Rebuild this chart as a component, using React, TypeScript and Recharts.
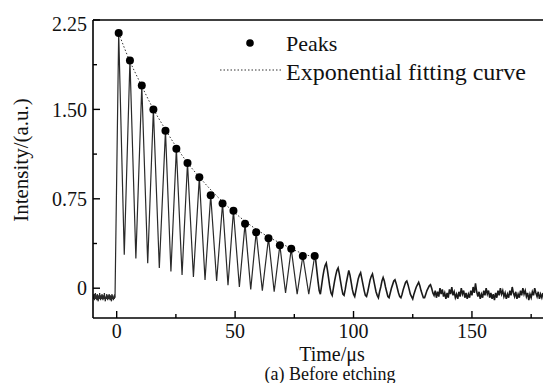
import React from 'react';
import { ComposedChart, Line, Scatter, XAxis, YAxis, ReferenceLine } from 'recharts';

// ---- data ----
// baseline before the trigger (µs grid start / step and intensity values)
const preStart = -10;
const preStep = 0.2;
const preValues = [
  -0.06, -0.09, -0.05, -0.10, -0.07, -0.04, -0.09, -0.06, -0.10, -0.05,
  -0.08, -0.11, -0.06, -0.09, -0.04, -0.08, -0.10, -0.06, -0.09, -0.05,
  -0.07, -0.10, -0.06, -0.09, -0.04, -0.08, -0.11, -0.07, -0.09, -0.05,
  -0.08, -0.10, -0.06, -0.09, -0.05, -0.07, -0.10, -0.06, -0.08, -0.11,
  -0.05, -0.09, -0.06, -0.10, -0.07, -0.09, -0.05, -0.08,
];
const riseStart = { t: -0.7, v: -0.07 };

// detected peaks (µs, a.u.)
const peakTimes = [0.85, 5.6, 10.6, 15.5, 20.6, 25.2, 29.9, 34.9, 39.7, 44.7, 49.3, 54.2, 58.9, 64.1, 68.9, 73.7, 78.6, 83.6];
const peakValues = [2.14, 1.91, 1.70, 1.50, 1.32, 1.17, 1.05, 0.93, 0.78, 0.71, 0.65, 0.54, 0.47, 0.42, 0.36, 0.33, 0.27, 0.27];

// troughs between the peaks
const troughTimes = [3.2, 8.1, 13.1, 18.0, 22.9, 27.6, 32.4, 37.3, 42.2, 47.0, 51.8, 56.6, 61.5, 66.5, 71.3, 76.2, 81.1];
const troughValues = [0.28, 0.25, 0.21, 0.17, 0.14, 0.11, 0.095, 0.07, 0.06, 0.025, 0.01, -0.01, -0.02, -0.03, -0.04, -0.05, -0.05];

// decaying, noisy tail after the last marked peak
const tailStart = 84;
const tailStep = 0.5;
const tailValues = [
  0.24, 0.15, 0.06, -0.02, -0.05, 0.02, 0.09, 0.15, 0.19, 0.21,
  0.15, 0.08, 0.01, -0.04, -0.06, 0.00, 0.06, 0.11, 0.15, 0.17,
  0.12, 0.06, 0.00, -0.05, -0.06, -0.01, 0.05, 0.10, 0.15, 0.11,
  0.05, -0.01, -0.05, -0.07, -0.02, 0.03, 0.08, 0.11, 0.13, 0.08,
  0.03, -0.02, -0.06, -0.07, -0.03, 0.02, 0.07, 0.10, 0.12, 0.07,
  0.02, -0.03, -0.06, -0.08, -0.03, 0.01, 0.06, 0.09, 0.06, 0.01,
  -0.03, -0.07, -0.08, -0.04, 0.00, 0.03, 0.06, 0.07, 0.04, 0.00,
  -0.04, -0.07, -0.08, -0.05, -0.01, 0.02, 0.05, 0.06, 0.03, -0.01,
  -0.05, -0.07, -0.09, -0.05, -0.02, 0.01, 0.03, 0.05, 0.02, -0.02,
  -0.05, -0.08, -0.08, -0.05, -0.02, 0.00, 0.02, 0.03, 0.00, -0.04,
  -0.06, -0.02, -0.08, -0.03, -0.07, 0.00, -0.05, -0.01, -0.07, -0.04,
  -0.09, -0.04, -0.08, -0.01, -0.05, 0.01, -0.06, -0.03, -0.08, -0.05,
  -0.09, -0.03, -0.07, 0.00, -0.05, -0.02, -0.08, -0.04, -0.09, -0.05,
  -0.08, -0.02, -0.06, 0.01, -0.04, 0.04, -0.03, -0.07, -0.03, -0.09,
  -0.05, -0.08, -0.02, -0.06, 0.00, -0.05, -0.02, -0.08, -0.04, -0.09,
  -0.05, -0.10, -0.04, -0.08, -0.02, -0.06, 0.00, -0.05, -0.02, -0.07,
  -0.04, -0.09, -0.05, -0.08, -0.02, -0.06, 0.01, -0.04, -0.07, -0.03,
  -0.09, -0.05, -0.08, -0.02, -0.06, 0.00, -0.05, -0.02, -0.07, -0.04,
  -0.10, -0.05, -0.08, -0.03, -0.06, 0.00, -0.04, -0.07, -0.03, -0.09,
  -0.05, -0.08, -0.04,
];

// exponential fitting curve
const fitTimes = [0.85, 5, 10, 15, 20, 25, 30, 35, 40, 45, 50, 55, 60, 65, 70, 75, 80, 84];
const fitValues = [2.14, 1.93, 1.72, 1.52, 1.35, 1.19, 1.05, 0.93, 0.82, 0.72, 0.63, 0.55, 0.48, 0.42, 0.37, 0.32, 0.28, 0.26];

// axis ticks
const xTicks = [0, 25, 50, 75, 100, 125, 150, 175];
const xMajor = [0, 50, 100, 150];
const yTicks = [0, 0.375, 0.75, 1.125, 1.5, 1.875, 2.25];
const yMajorLabels: Record<string, string> = { '0': '0', '0.75': '0.75', '1.5': '1.50', '2.25': '2.25' };

// ---- build tables ----
const preData = preValues.map((v, i) => ({ t: preStart + i * preStep, v }));
const waveData: { t: number; v: number }[] = [...preData, riseStart];
peakTimes.forEach((t, i) => {
  waveData.push({ t, v: peakValues[i] });
  if (i < troughTimes.length) waveData.push({ t: troughTimes[i], v: troughValues[i] });
});
const tailData = tailValues.map((v, i) => ({ t: tailStart + i * tailStep, v }));
const peakData = peakTimes.map((t, i) => ({ t, v: peakValues[i] }));
const fitData = fitTimes.map((t, i) => ({ t, v: fitValues[i] }));

const FONT = '"Liberation Serif", "Times New Roman", serif';

const XTick = (props: any) => {
  const { x, y, payload } = props;
  const major = xMajor.includes(payload.value);
  return (
    <g>
      <line x1={x} x2={x} y1={y} y2={y - (major ? 7 : 4)} stroke="#000" strokeWidth={1.4} />
      {major && (
        <text x={x} y={y + 6} dy="0.71em" textAnchor="middle" fontFamily={FONT} fontSize={20} fill="#111">
          {payload.value}
        </text>
      )}
    </g>
  );
};

const YTick = (props: any) => {
  const { x, y, payload } = props;
  const label = yMajorLabels[String(payload.value)];
  const major = label !== undefined;
  return (
    <g>
      <line x1={x} x2={x + (major ? 7 : 4)} y1={y} y2={y} stroke="#000" strokeWidth={1.4} />
      {major && (
        <text x={x - 6} y={y + (payload.value === 2.25 ? 4 : 0)} dy="0.355em" textAnchor="end" fontFamily={FONT} fontSize={20} fill="#111">
          {label}
        </text>
      )}
    </g>
  );
};

export default function App() {
  return (
    <div style={{ position: 'absolute', left: 0, top: 0, width: 543, height: 383, overflow: 'hidden', background: '#fff' }}>
      <ComposedChart width={543} height={383} margin={{ top: 20, right: 0, bottom: 0, left: 0 }}>
        <XAxis
          type="number"
          dataKey="t"
          domain={[-10, 180]}
          ticks={xTicks}
          allowDataOverflow
          height={65}
          tickSize={0}
          tickMargin={0}
          tick={XTick}
          axisLine={{ stroke: '#000', strokeWidth: 1.6 }}
          tickLine={false}
          interval={0}
        />
        <YAxis
          type="number"
          dataKey="v"
          domain={[-0.25, 2.25]}
          ticks={yTicks}
          allowDataOverflow
          width={93}
          tickSize={0}
          tickMargin={0}
          tick={YTick}
          axisLine={{ stroke: '#000', strokeWidth: 1.6 }}
          tickLine={false}
          interval={0}
        />
        <ReferenceLine y={2.25} stroke="#000" strokeWidth={1.6} />
        <Line data={waveData} dataKey="v" type="linear" stroke="#2a2a2a" strokeWidth={1.2} dot={false} activeDot={false} isAnimationActive={false} />
        <Line data={tailData} dataKey="v" type="linear" stroke="#1a1a1a" strokeWidth={1.6} dot={false} activeDot={false} isAnimationActive={false} />
        <Line data={fitData} dataKey="v" type="monotone" stroke="#333" strokeWidth={1} strokeDasharray="1.5 2" dot={false} activeDot={false} isAnimationActive={false} />
        <Scatter data={peakData} dataKey="v" fill="#000" shape={(p: any) => <circle cx={p.cx} cy={p.cy} r={4} fill="#000" />} isAnimationActive={false} />
      </ComposedChart>
      <svg width={543} height={383} style={{ position: 'absolute', left: 0, top: 0, pointerEvents: 'none' }}>
        <circle cx={250} cy={43} r={3.8} fill="#000" />
        <text x={286} y={51} fontFamily={FONT} fontSize={22} fill="#111">Peaks</text>
        <line x1={220} x2={283} y1={70} y2={70} stroke="#333" strokeWidth={1} strokeDasharray="1.5 2" />
        <text x={286} y={80} fontFamily={FONT} fontSize={24} fill="#111">Exponential fitting curve</text>
        <text transform="translate(28,160) rotate(-90)" textAnchor="middle" fontFamily={FONT} fontSize={21} fill="#111">Intensity/(a.u.)</text>
        <text x={332} y={361} textAnchor="middle" fontFamily={FONT} fontSize={20} fill="#111">Time/μs</text>
        <text x={330} y={380} textAnchor="middle" fontFamily={FONT} fontSize={18} fill="#111">(a) Before etching</text>
      </svg>
    </div>
  );
}
